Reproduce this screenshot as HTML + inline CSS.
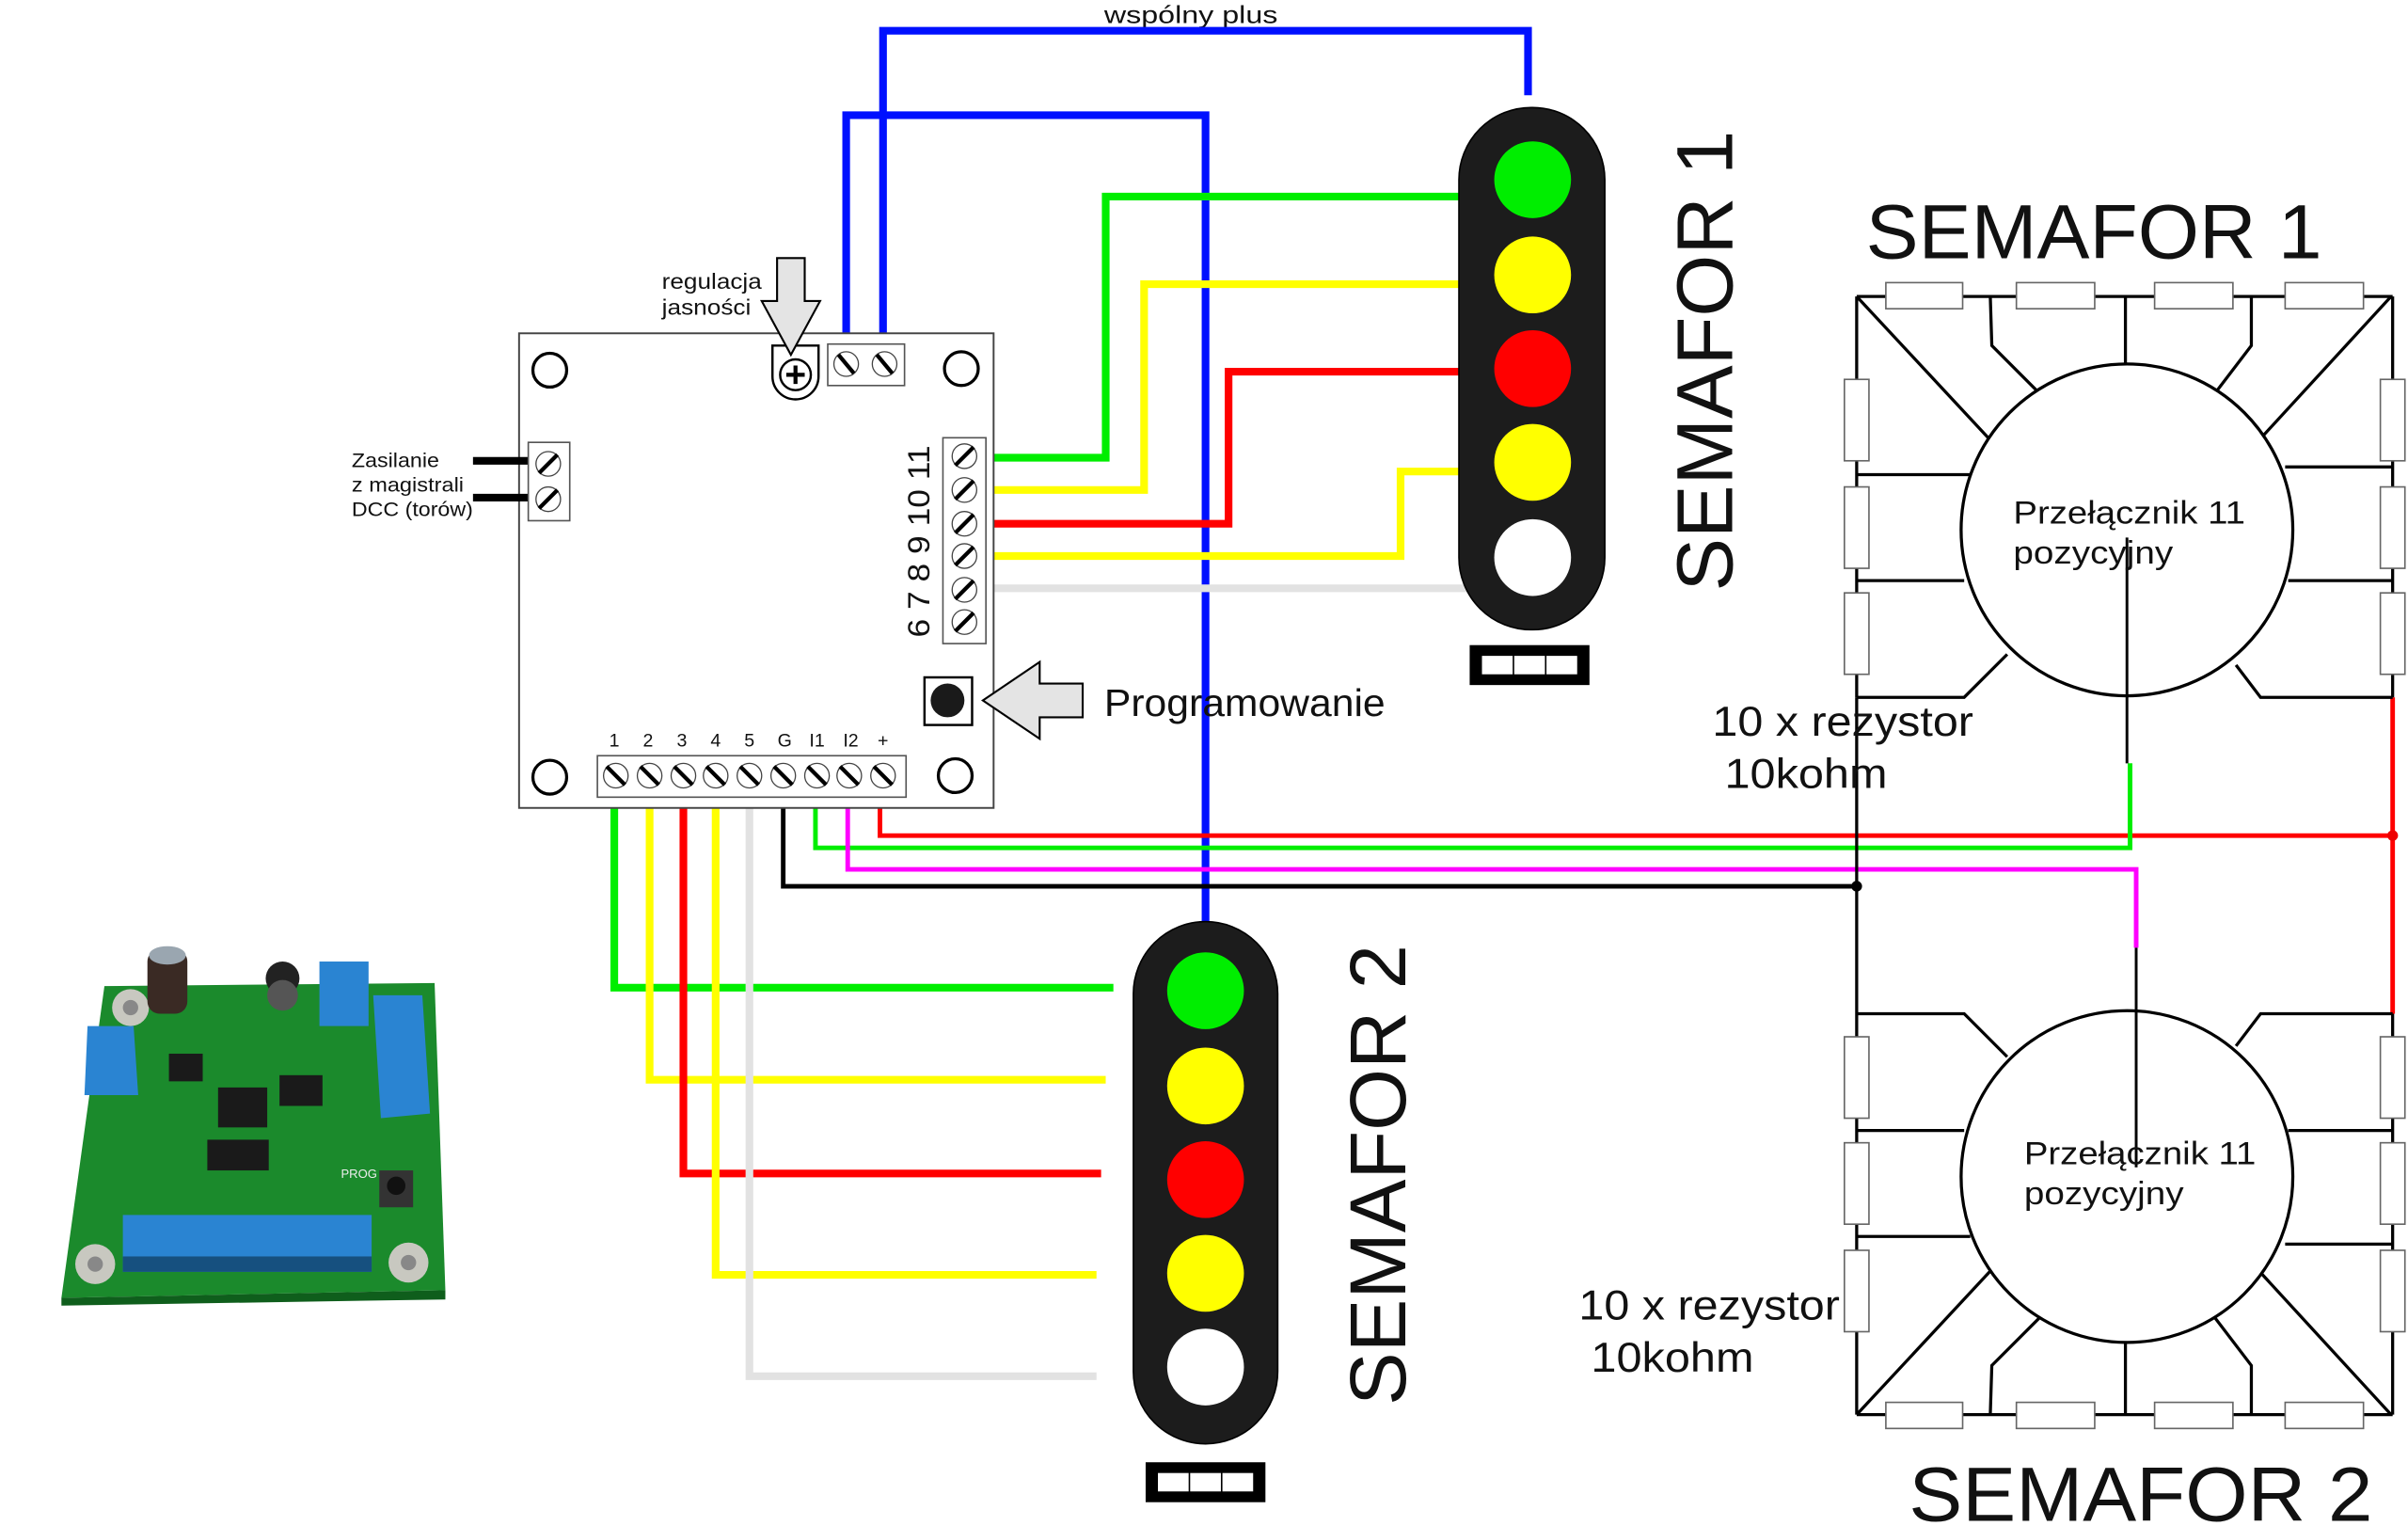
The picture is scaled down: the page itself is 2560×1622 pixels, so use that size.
<!DOCTYPE html>
<html><head><meta charset="utf-8"><style>
html,body{margin:0;padding:0;background:#fff;}
svg{display:block;}
text{font-family:"Liberation Sans",Arial,sans-serif;fill:#111;}
</style></head><body>
<svg width="2560" height="1622" viewBox="0 0 1568 993.5" preserveAspectRatio="none" xmlns="http://www.w3.org/2000/svg" font-family="Liberation Sans, sans-serif">
<rect width="1568" height="993.5" fill="#fff"/>

<text x="719" y="15" font-size="16" textLength="113" lengthAdjust="spacingAndGlyphs">wspólny plus</text>

<polyline points="575,224 575,20 995,20 995,62" fill="none" stroke="#0010ff" stroke-width="5"/>
<polyline points="551,224 551,75 785,75 785,602" fill="none" stroke="#0010ff" stroke-width="5"/>

<polyline points="647,298 720,298 720,128 952,128" fill="none" stroke="#00ee00" stroke-width="5"/>
<polyline points="647,319 745,319 745,185 952,185" fill="none" stroke="#ffff00" stroke-width="5"/>
<polyline points="647,341 800,341 800,242 952,242" fill="none" stroke="#ff0000" stroke-width="5"/>
<polyline points="647,362 912,362 912,307 952,307" fill="none" stroke="#ffff00" stroke-width="5"/>
<polyline points="647,383 957,383" fill="none" stroke="#e2e2e2" stroke-width="5"/>

<polyline points="400,519 400,643 725,643" fill="none" stroke="#00ee00" stroke-width="5"/>
<polyline points="423,519 423,703 720,703" fill="none" stroke="#ffff00" stroke-width="5"/>
<polyline points="445,519 445,764 717,764" fill="none" stroke="#ff0000" stroke-width="5"/>
<polyline points="466,519 466,830 714,830" fill="none" stroke="#ffff00" stroke-width="5"/>
<polyline points="488,519 488,896 714,896" fill="none" stroke="#e2e2e2" stroke-width="5"/>

<polyline points="510,519 510,577 1209,577" fill="none" stroke="#000" stroke-width="3"/>
<polyline points="531,519 531,552 1387,552 1387,497" fill="none" stroke="#00ee00" stroke-width="3"/>
<polyline points="552,519 552,566 1391,566 1391,617" fill="none" stroke="#ff00ff" stroke-width="3"/>
<polyline points="573,519 573,544 1558,544" fill="none" stroke="#ff0000" stroke-width="3"/>
<line x1="1558" y1="454" x2="1558" y2="660" stroke="#ff0000" stroke-width="3"/>
<circle cx="1209" cy="577" r="3.5" fill="#000"/>
<circle cx="1558" cy="544" r="3.5" fill="#e00"/>

<rect x="338" y="217" width="309" height="309" fill="#fff" stroke="#444" stroke-width="1.2"/>
<g fill="none" stroke="#000" stroke-width="2">
<circle cx="358" cy="241" r="11"/><circle cx="626" cy="240" r="11"/>
<circle cx="358" cy="506" r="11"/><circle cx="622" cy="505" r="11"/>
</g>
<path d="M503,225 L533,225 L533,245 A15,15 0 0 1 503,245 Z" fill="#fff" stroke="#000" stroke-width="1.5"/>
<circle cx="518" cy="244" r="10" fill="#fff" stroke="#000" stroke-width="1.5"/>
<path d="M512,244 H524 M518,238 V250" stroke="#000" stroke-width="2.6"/>
<rect x="539" y="224" width="50" height="27" fill="#fff" stroke="#555" stroke-width="1"/>
<circle cx="551" cy="237" r="8" fill="#fff" stroke="#444" stroke-width="0.8"/>
<circle cx="576" cy="237" r="8" fill="#fff" stroke="#444" stroke-width="0.8"/>
<path d="M546,231 L556,243 M571,231 L581,243" stroke="#000" stroke-width="2.6"/>

<line x1="308" y1="300" x2="344" y2="300" stroke="#000" stroke-width="5"/>
<line x1="308" y1="324" x2="344" y2="324" stroke="#000" stroke-width="5"/>
<rect x="344" y="288" width="27" height="51" fill="#fff" stroke="#555" stroke-width="1"/>
<circle cx="357" cy="302" r="8" fill="#fff" stroke="#444" stroke-width="0.8"/>
<circle cx="357" cy="325" r="8" fill="#fff" stroke="#444" stroke-width="0.8"/>
<path d="M351,308 L363,296 M351,331 L363,319" stroke="#000" stroke-width="2.6"/>
<text x="229" y="304" font-size="13" textLength="57" lengthAdjust="spacingAndGlyphs">Zasilanie</text>
<text x="229" y="320" font-size="13" textLength="73" lengthAdjust="spacingAndGlyphs">z magistrali</text>
<text x="229" y="336" font-size="13" textLength="79" lengthAdjust="spacingAndGlyphs">DCC (torów)</text>

<rect x="614" y="285" width="28" height="134" fill="#fff" stroke="#555" stroke-width="1"/>
<g fill="#fff" stroke="#444" stroke-width="0.8">
<circle cx="628" cy="297" r="8"/><circle cx="628" cy="319" r="8"/><circle cx="628" cy="341" r="8"/>
<circle cx="628" cy="362" r="8"/><circle cx="628" cy="384" r="8"/><circle cx="628" cy="405" r="8"/>
</g>
<path d="M622,303 L634,291 M622,325 L634,313 M622,347 L634,335 M622,368 L634,356 M622,390 L634,378 M622,411 L634,399" stroke="#000" stroke-width="2.6"/>
<text transform="translate(605,415) rotate(-90)" font-size="20" textLength="125" lengthAdjust="spacingAndGlyphs">6 7 8 9 10 11</text>

<rect x="602" y="441" width="31" height="31" fill="#fff" stroke="#000" stroke-width="1.5"/>
<circle cx="617" cy="456" r="11" fill="#1a1a1a"/>
<polygon points="640,456 677,431 677,445 705,445 705,467 677,467 677,481" fill="#e4e4e4" stroke="#000" stroke-width="1.3"/>
<text x="719" y="466" font-size="25" textLength="183" lengthAdjust="spacingAndGlyphs">Programowanie</text>
<polygon points="506,168 524,168 524,196 534,196 515,231 496,196 506,196" fill="#e4e4e4" stroke="#000" stroke-width="1.3"/>
<text x="431" y="188" font-size="14" textLength="65" lengthAdjust="spacingAndGlyphs">regulacja</text>
<text x="431" y="205" font-size="14" textLength="58" lengthAdjust="spacingAndGlyphs">jasności</text>

<rect x="389" y="492" width="201" height="27" fill="#fff" stroke="#555" stroke-width="1"/>
<g fill="#fff" stroke="#444" stroke-width="0.8">
<circle cx="401" cy="505" r="8"/><circle cx="423" cy="505" r="8"/><circle cx="445" cy="505" r="8"/>
<circle cx="466" cy="505" r="8"/><circle cx="488" cy="505" r="8"/><circle cx="510" cy="505" r="8"/>
<circle cx="532" cy="505" r="8"/><circle cx="553" cy="505" r="8"/><circle cx="575" cy="505" r="8"/>
</g>
<path d="M395,499 L407,511 M417,499 L429,511 M439,499 L451,511 M460,499 L472,511 M482,499 L494,511 M504,499 L516,511 M526,499 L538,511 M547,499 L559,511 M569,499 L581,511" stroke="#000" stroke-width="2.6"/>
<g font-size="12" text-anchor="middle">
<text x="400" y="486">1</text><text x="422" y="486">2</text><text x="444" y="486">3</text>
<text x="466" y="486">4</text><text x="488" y="486">5</text><text x="511" y="486">G</text>
<text x="532" y="486">I1</text><text x="554" y="486">I2</text><text x="575" y="486">+</text>
</g>

<rect x="950" y="70" width="95" height="340" rx="47" fill="#1c1c1c" stroke="#000" stroke-width="1"/>
<circle cx="998" cy="117" r="25" fill="#00ee00"/>
<circle cx="998" cy="179" r="25" fill="#ffff00"/>
<circle cx="998" cy="240" r="25" fill="#ff0000"/>
<circle cx="998" cy="301" r="25" fill="#ffff00"/>
<circle cx="998" cy="363" r="25" fill="#ffffff"/>
<rect x="957" y="420" width="78" height="26" fill="#000"/>
<rect x="965" y="427" width="20" height="12" fill="#fff"/><rect x="986" y="427" width="20" height="12" fill="#fff"/><rect x="1007" y="427" width="20" height="12" fill="#fff"/>
<text transform="translate(1128,385) rotate(-90)" font-size="52" textLength="300" lengthAdjust="spacingAndGlyphs">SEMAFOR 1</text>

<rect x="738" y="600" width="94" height="340" rx="47" fill="#1c1c1c" stroke="#000" stroke-width="1"/>
<circle cx="785" cy="645" r="25" fill="#00ee00"/>
<circle cx="785" cy="707" r="25" fill="#ffff00"/>
<circle cx="785" cy="768" r="25" fill="#ff0000"/>
<circle cx="785" cy="829" r="25" fill="#ffff00"/>
<circle cx="785" cy="890" r="25" fill="#ffffff"/>
<rect x="746" y="952" width="78" height="26" fill="#000"/>
<rect x="754" y="959" width="20" height="12" fill="#fff"/><rect x="775" y="959" width="20" height="12" fill="#fff"/><rect x="796" y="959" width="20" height="12" fill="#fff"/>
<text transform="translate(915,915) rotate(-90)" font-size="52" textLength="300" lengthAdjust="spacingAndGlyphs">SEMAFOR 2</text>

<g fill="none" stroke="#000" stroke-width="2">
<line x1="1209" y1="193" x2="1558" y2="193"/>
<line x1="1209" y1="193" x2="1209" y2="454"/>
<line x1="1558" y1="193" x2="1558" y2="454"/>
<line x1="1209" y1="193" x2="1303" y2="294"/>
<polyline points="1296,193 1297,225 1336,264"/>
<line x1="1384" y1="193" x2="1384" y2="240"/>
<polyline points="1466,193 1466,225 1437,263"/>
<line x1="1557" y1="193" x2="1466" y2="292"/>
<line x1="1209" y1="309" x2="1283" y2="309"/>
<line x1="1209" y1="378" x2="1279" y2="378"/>
<line x1="1488" y1="304" x2="1558" y2="304"/>
<line x1="1490" y1="378" x2="1558" y2="378"/>
<polyline points="1209,454 1279,454 1307,426"/>
<polyline points="1558,454 1472,454 1456,433"/>
<circle cx="1385" cy="345" r="108" fill="#fff"/>
<g fill="#fff" stroke="#666" stroke-width="1">
<rect x="1228" y="184" width="50" height="17"/><rect x="1313" y="184" width="51" height="17"/>
<rect x="1403" y="184" width="51" height="17"/><rect x="1488" y="184" width="51" height="17"/>
<rect x="1201" y="247" width="16" height="53"/><rect x="1201" y="317" width="16" height="53"/><rect x="1201" y="386" width="16" height="53"/>
<rect x="1550" y="247" width="16" height="53"/><rect x="1550" y="317" width="16" height="53"/><rect x="1550" y="386" width="16" height="53"/>
</g>
</g>
<line x1="1385" y1="350" x2="1385" y2="497" stroke="#000" stroke-width="1.8"/>
<line x1="1387" y1="497" x2="1387" y2="552" stroke="#00ee00" stroke-width="3"/>
<text x="1311" y="341" font-size="21" textLength="151" lengthAdjust="spacingAndGlyphs">Przełącznik 11</text>
<text x="1311" y="367" font-size="21" textLength="104" lengthAdjust="spacingAndGlyphs">pozycyjny</text>

<g transform="translate(0,1114) scale(1,-1)">
<g fill="none" stroke="#000" stroke-width="2">
<line x1="1209" y1="193" x2="1558" y2="193"/>
<line x1="1209" y1="193" x2="1209" y2="454"/>
<line x1="1209" y1="193" x2="1303" y2="294"/>
<polyline points="1296,193 1297,225 1336,264"/>
<line x1="1384" y1="193" x2="1384" y2="240"/>
<polyline points="1466,193 1466,225 1437,263"/>
<line x1="1557" y1="193" x2="1466" y2="292"/>
<line x1="1558" y1="193" x2="1558" y2="454"/>
<line x1="1209" y1="309" x2="1283" y2="309"/>
<line x1="1209" y1="378" x2="1279" y2="378"/>
<line x1="1488" y1="304" x2="1558" y2="304"/>
<line x1="1490" y1="378" x2="1558" y2="378"/>
<polyline points="1209,454 1279,454 1307,426"/>
<polyline points="1558,454 1472,454 1456,433"/>
<circle cx="1385" cy="348" r="108" fill="#fff"/>
<g fill="#fff" stroke="#666" stroke-width="1">
<rect x="1228" y="184" width="50" height="17"/><rect x="1313" y="184" width="51" height="17"/>
<rect x="1403" y="184" width="51" height="17"/><rect x="1488" y="184" width="51" height="17"/>
<rect x="1201" y="247" width="16" height="53"/><rect x="1201" y="317" width="16" height="53"/><rect x="1201" y="386" width="16" height="53"/>
<rect x="1550" y="247" width="16" height="53"/><rect x="1550" y="317" width="16" height="53"/><rect x="1550" y="386" width="16" height="53"/>
</g>
</g>
</g>
<line x1="1209" y1="454" x2="1209" y2="660" stroke="#000" stroke-width="2"/>
<line x1="1391" y1="617" x2="1391" y2="760" stroke="#000" stroke-width="1.8"/>
<text x="1318" y="758" font-size="21" textLength="151" lengthAdjust="spacingAndGlyphs">Przełącznik 11</text>
<text x="1318" y="784" font-size="21" textLength="104" lengthAdjust="spacingAndGlyphs">pozycyjny</text>

<text x="1215" y="168" font-size="50" textLength="297" lengthAdjust="spacingAndGlyphs">SEMAFOR 1</text>
<text x="1243" y="990" font-size="50" textLength="302" lengthAdjust="spacingAndGlyphs">SEMAFOR 2</text>
<text x="1115" y="479" font-size="27" textLength="170" lengthAdjust="spacingAndGlyphs">10 x rezystor</text>
<text x="1123" y="513" font-size="27" textLength="106" lengthAdjust="spacingAndGlyphs">10kohm</text>
<text x="1028" y="859" font-size="27" textLength="170" lengthAdjust="spacingAndGlyphs">10 x rezystor</text>
<text x="1036" y="893" font-size="27" textLength="106" lengthAdjust="spacingAndGlyphs">10kohm</text>

<g>
<polygon points="68,642 283,640 290,840 40,845" fill="#1b8a2c"/>
<polygon points="40,845 290,840 290,846 40,850" fill="#0f5e1c"/>
<circle cx="85" cy="656" r="12" fill="#c8c8c0"/><circle cx="85" cy="656" r="5" fill="#888"/>
<circle cx="62" cy="823" r="13" fill="#c8c8c0"/><circle cx="62" cy="823" r="5" fill="#888"/>
<circle cx="266" cy="822" r="13" fill="#c8c8c0"/><circle cx="266" cy="822" r="5" fill="#888"/>
<rect x="96" y="618" width="26" height="42" rx="8" fill="#3a2a24"/>
<ellipse cx="109" cy="622" rx="12" ry="6" fill="#9aa6b0"/>
<circle cx="184" cy="637" r="11" fill="#222"/><circle cx="184" cy="648" r="10" fill="#555"/>
<rect x="208" y="626" width="32" height="42" fill="#2a84d2"/>
<polygon points="243,648 275,648 280,725 248,728" fill="#2a84d2"/>
<polygon points="57,668 87,668 90,713 55,713" fill="#2a84d2"/>
<rect x="80" y="791" width="162" height="37" fill="#2a84d2"/>
<rect x="80" y="818" width="162" height="10" fill="#16507f"/>
<rect x="142" y="708" width="32" height="26" fill="#1a1a1a"/>
<rect x="182" y="700" width="28" height="20" fill="#1a1a1a"/>
<rect x="135" y="742" width="40" height="20" fill="#1a1a1a"/>
<rect x="110" y="686" width="22" height="18" fill="#1a1a1a"/>
<rect x="247" y="762" width="22" height="24" fill="#333"/><circle cx="258" cy="772" r="6" fill="#111"/>
<text x="222" y="767" font-size="8" style="fill:#eee">PROG</text>
</g>
</svg>
</body></html>
